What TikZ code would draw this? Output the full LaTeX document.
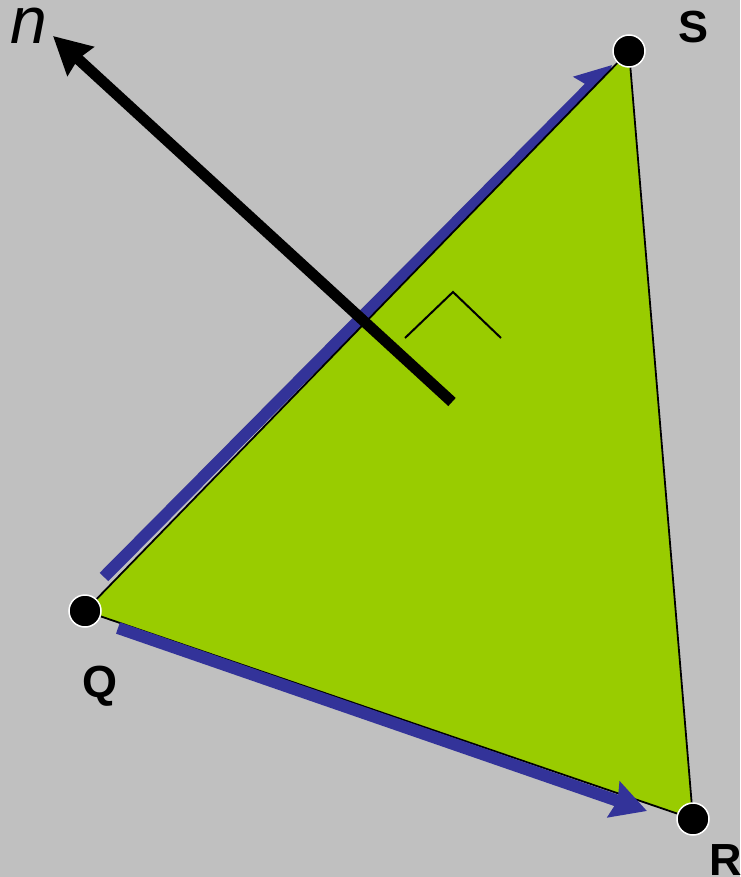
\documentclass[tikz,border=0pt]{standalone}
\usepackage{fontspec}
\setmainfont{Liberation Sans}
\usetikzlibrary{arrows.meta}
\definecolor{bggray}{HTML}{C0C0C0}
\definecolor{facegreen}{HTML}{99CC00}
\definecolor{edgeblue}{HTML}{333399}

\begin{document}
\begin{tikzpicture}[x=1pt, y=-1pt,
    vertex/.style={circle, fill=black, draw=white, line width=1.5pt,
                   minimum size=32pt, inner sep=0pt},
    lbl/.style={inner sep=0pt, anchor=base, font=\fontsize{45}{54}\selectfont\bfseries},
    edgearrow/.style={draw=edgeblue, line width=12pt,
                      -{Stealth[length=35pt, width=37pt, inset=4pt]}},
    normalarrow/.style={draw=black, line width=11pt,
                        -{Stealth[length=37pt, width=38pt, inset=3pt]}},
    face/.style={fill=facegreen, draw=black, line width=1.8pt},
    rightmark/.style={draw=black, line width=2pt}
]

% --- Background ---
\fill[bggray] (0,0) rectangle (740,877);
\useasboundingbox (0,0) rectangle (740,877);

% --- Corner points ---
\coordinate (Q) at (85,611);
\coordinate (S) at (629,51);
\coordinate (R) at (693,819);

% --- Ends of the edge vectors ---
\coordinate (qsstart) at (104,577);
\coordinate (qsend)   at (612,65);
\coordinate (qrstart) at (118,628);
\coordinate (qrend)   at (647,811);

% --- Edge vector Q to S (under the face) ---
\draw[edgearrow] (qsstart) -- (qsend);

% --- Triangle face ---
\path[face] (Q) -- (R) -- (S) -- cycle;

% --- Edge vector Q to R ---
\draw[edgearrow] (qrstart) -- (qrend);

% --- Normal vector ---
\coordinate (foot) at (452,402);
\coordinate (ntip) at (53,36);
\draw[normalarrow] (foot) -- (ntip);

% --- Right angle mark ---
\coordinate (ra1) at (405,338);
\coordinate (ra2) at (453,292);
\coordinate (ra3) at (501,338);
\draw[rightmark] (ra1) -- (ra2) -- (ra3);

% --- Vertices ---
\node[vertex] (q) at (Q) {};
\node[vertex] (s) at (S) {};
\node[vertex] (r) at (R) {};

% --- Labels ---
\node[lbl] (qlbl) at (100,697) {Q};
\node[lbl] (slbl) at (693,43) {S};
\node[lbl] (rlbl) at (726,875) {R};
\node[lbl, font=\fontsize{66}{80}\selectfont\itshape] (nlbl) at (29,44) {n};

\end{tikzpicture}
\end{document}
